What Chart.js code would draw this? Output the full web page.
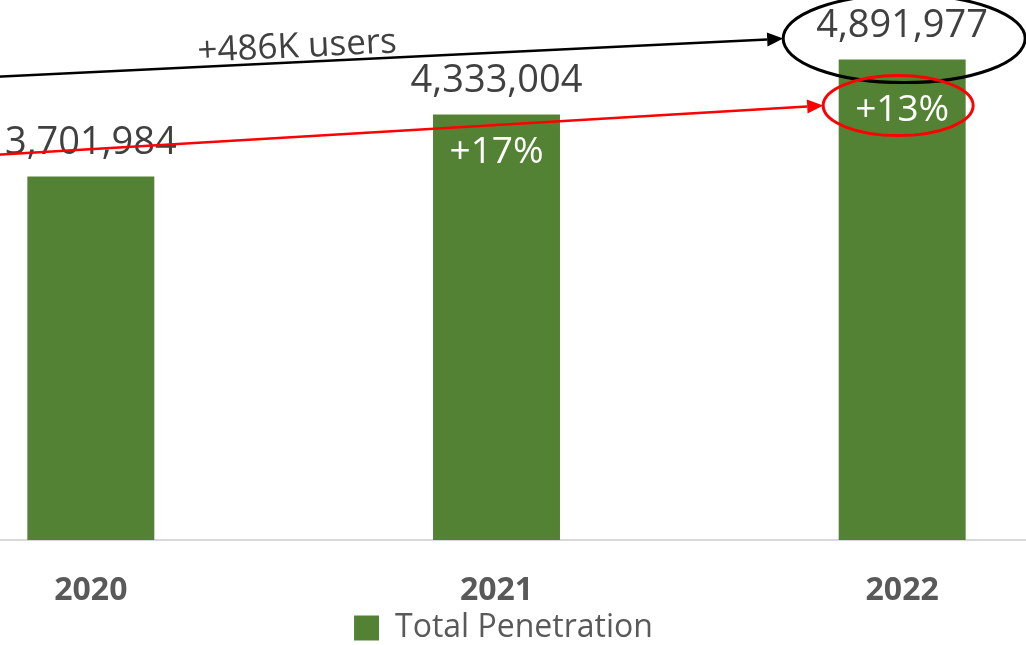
<!DOCTYPE html>
<html>
<head>
<meta charset="utf-8">
<title>Total Penetration</title>
<script src="https://cdn.jsdelivr.net/npm/chart.js@4.4.1/dist/chart.umd.min.js"></script>
<style>
  html, body { margin: 0; padding: 0; background: #ffffff; overflow: hidden; }
  body { width: 1026px; height: 645px; position: relative; }
  #wrap { position: absolute; left: -112px; top: 0; width: 1217px; height: 654px; }
</style>
</head>
<body>
<div id="wrap"><canvas id="chart"></canvas></div>
<script>
// Yearly totals
const years = ['2020', '2021', '2022'];
const totalPenetration = [3701984, 4333004, 4891977];
const seriesName = 'Total Penetration';
const callouts = ['+486K users'];

const FONT = '"Open Sans", "Liberation Sans", sans-serif';
const GREEN = '#548235';
const DARK_TEXT = '#404040';

// year-over-year growth shown inside the bars
function growthLabel(i) {
  const pct = Math.round((totalPenetration[i] / totalPenetration[i - 1] - 1) * 100);
  return '+' + pct + '%';
}

function drawArrow(ctx, x0, y0, x1, y1, color) {
  const ang = Math.atan2(y1 - y0, x1 - x0);
  const head = 16, half = 7;
  ctx.save();
  ctx.strokeStyle = color;
  ctx.fillStyle = color;
  ctx.lineWidth = 2.5;
  ctx.beginPath();
  ctx.moveTo(x0, y0);
  ctx.lineTo(x1 - head * Math.cos(ang), y1 - head * Math.sin(ang));
  ctx.stroke();
  ctx.beginPath();
  ctx.moveTo(x1, y1);
  ctx.lineTo(x1 - head * Math.cos(ang) + half * Math.sin(ang), y1 - head * Math.sin(ang) - half * Math.cos(ang));
  ctx.lineTo(x1 - head * Math.cos(ang) - half * Math.sin(ang), y1 - head * Math.sin(ang) + half * Math.cos(ang));
  ctx.closePath();
  ctx.fill();
  ctx.restore();
}

function drawEllipse(ctx, cx, cy, rx, ry, color) {
  ctx.save();
  ctx.strokeStyle = color;
  ctx.lineWidth = 3;
  ctx.beginPath();
  ctx.ellipse(cx, cy, rx, ry, 0, 0, Math.PI * 2);
  ctx.stroke();
  ctx.restore();
}

// value labels above bars, growth labels inside, and the highlight annotations
const labelPlugin = {
  id: 'barLabels',
  afterLayout(chart) {
    // nudge the legend a little to the right
    chart.legend.left += 7;
    chart.legend.right += 7;
  },
  afterDatasetsDraw(chart) {
    const ctx = chart.ctx;
    const bars = chart.getDatasetMeta(0).data;
    ctx.save();
    ctx.textAlign = 'center';
    ctx.textBaseline = 'middle';
    ctx.font = '38px ' + FONT;
    ctx.fillStyle = DARK_TEXT;
    bars.forEach((b, i) => {
      ctx.fillText(totalPenetration[i].toLocaleString('en-US'), b.x, b.y - 33);
    });
    ctx.fillStyle = '#ffffff';
    ctx.font = '37px ' + FONT;
    const inset = [0, 38, 51];
    bars.forEach((b, i) => {
      if (i === 0) return;
      ctx.fillText(growthLabel(i), b.x, b.y + inset[i]);
    });
    ctx.restore();

    const last = bars[bars.length - 1];
    // black: absolute increase, circled total
    const bcx = last.x + 2, bcy = last.y - 21, brx = 121, bry = 44;
    const bTipX = bcx - brx, bTipY = bcy;
    const bSlope = 0.0486;
    const bStartX = bTipX - 900, bStartY = bTipY + 900 * bSlope;
    drawArrow(ctx, bStartX, bStartY, bTipX, bTipY, '#000000');
    drawEllipse(ctx, bcx, bcy, brx, bry, '#000000');

    // red: growth rate, circled percentage
    const rcx = last.x - 4, rcy = last.y + 46, rrx = 75, rry = 30;
    const rTipX = rcx - rrx, rTipY = rcy;
    const rSlope = 0.0595;
    const rStartX = rTipX - 950, rStartY = rTipY + 950 * rSlope;
    drawArrow(ctx, rStartX, rStartY, rTipX, rTipY, '#ff0000');
    drawEllipse(ctx, rcx, rcy, rrx, rry, '#ff0000');

    // callout text riding on the black arrow
    const tx = bTipX - 486, ty = bTipY + 486 * bSlope - 15;
    ctx.save();
    ctx.translate(tx, ty);
    ctx.rotate(-Math.atan(bSlope));
    ctx.font = '35px ' + FONT;
    ctx.fillStyle = DARK_TEXT;
    ctx.textAlign = 'center';
    ctx.textBaseline = 'middle';
    ctx.fillText(callouts[0], 0, 0);
    ctx.restore();
  }
};

new Chart(document.getElementById('chart'), {
  type: 'bar',
  data: {
    labels: years,
    datasets: [{
      label: seriesName,
      data: totalPenetration,
      backgroundColor: GREEN,
      borderWidth: 0,
      barPercentage: 0.313,
      categoryPercentage: 1.0
    }]
  },
  options: {
    responsive: true,
    maintainAspectRatio: false,
    animation: false,
    layout: { padding: { top: 49, bottom: 0, left: 0, right: 0 } },
    plugins: {
      tooltip: { enabled: false },
      legend: {
        display: true,
        position: 'bottom',
        labels: {
          font: { family: FONT, size: 32 },
          color: '#595959',
          boxWidth: 25,
          boxHeight: 25,
          padding: 0
        }
      }
    },
    scales: {
      x: {
        grid: { display: false, drawTicks: false },
        border: { display: true, color: '#d9d9d9', width: 2 },
        ticks: {
          font: { family: FONT, size: 32, weight: 'bold' },
          color: '#595959',
          padding: 32
        },
        afterFit(scale) { scale.height = 72; }
      },
      y: {
        display: false,
        min: 0,
        max: 5000000
      }
    }
  },
  plugins: [labelPlugin]
});
</script>
</body>
</html>
